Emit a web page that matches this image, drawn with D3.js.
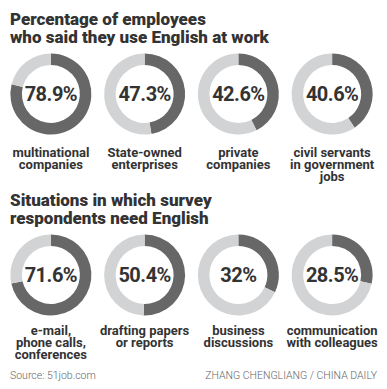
<!DOCTYPE html>
<html>
<head>
<meta charset="utf-8">
<script src="https://cdn.jsdelivr.net/npm/d3@7"></script>
<style>
  body { margin: 0; background: #fff; }
  text { font-family: Roboto, "Liberation Sans", sans-serif; }
</style>
</head>
<body>
<div id="app"></div>
<script>
// 数据
const workplaces = ["multinational|companies", "State-owned|enterprises", "private|companies", "civil servants|in government|jobs"];
const workValues = [78.9, 47.3, 42.6, 40.6];
const situations = ["e-mail,|phone calls,|conferences", "drafting papers|or reports", "business|discussions", "communication|with colleagues"];
const situationValues = [71.6, 50.4, 32, 28.5];

const width = 387, height = 389;
const dark = "#676767", light = "#d2d3d4", ink = "#333";

const svg = d3.select('#app')
  .append('svg')
    .attr('width', width)
    .attr('height', height);

const x = d3.scaleBand().domain(d3.range(4)).range([4, 379]);
const arc = d3.arc().innerRadius(29).outerRadius(40.5);
const pie = d3.pie().sort(null).value(d => d);

function title(lines, y) {
  svg.append('g').selectAll('text')
    .data(lines)
    .join('text')
      .attr('x', 10)
      .attr('y', (d, i) => y + i * 18)
      .attr('fill', ink)
      .style('font-size', '17px')
      .style('font-weight', 900)
      .text(d => d);
}

function donutRow(labels, values, cy, labelY) {
  const g = svg.append('g').selectAll('g')
    .data(values)
    .join('g')
      .attr('transform', (d, i) => `translate(${x(i) + x.bandwidth() / 2}, ${cy})`);

  g.selectAll('path')
    .data(d => pie([d, 100 - d]))
    .join('path')
      .attr('d', arc)
      .attr('fill', (d, i) => i ? light : dark);

  g.append('text')
    .attr('text-anchor', 'middle')
    .attr('dy', '0.36em')
    .attr('fill', ink)
    .style('font-size', '20px')
    .style('font-weight', 700)
    .style('letter-spacing', '-0.5px')
    .text(d => d + '%');

  // 标签: 每行一个 text
  g.selectAll('text.label')
    .data((d, i) => labels[i].split('|'))
    .join('text')
      .attr('class', 'label')
      .attr('text-anchor', 'middle')
      .attr('x', 0)
      .attr('y', (d, i) => labelY - cy + i * 11.8)
      .attr('fill', ink)
      .style('font-size', '13px')
      .style('font-weight', 700)
      .text(d => d);
}

title(["Percentage of employees", "who said they use English at work"], 25);
donutRow(workplaces, workValues, 94, 157);
title(["Situations in which survey", "respondents need English"], 206);
donutRow(situations, situationValues, 275, 335);

svg.append('text')
  .attr('x', 10).attr('y', 379)
  .attr('fill', '#666')
  .style('font-size', '10.5px')
  .style('font-weight', 300)
  .text('Source: 51job.com');

svg.append('text')
  .attr('x', 377).attr('y', 379)
  .attr('text-anchor', 'end')
  .attr('fill', '#666')
  .style('font-size', '10.5px')
  .style('font-weight', 300)
  .text('ZHANG CHENGLIANG / CHINA DAILY');
</script>
</body>
</html>
